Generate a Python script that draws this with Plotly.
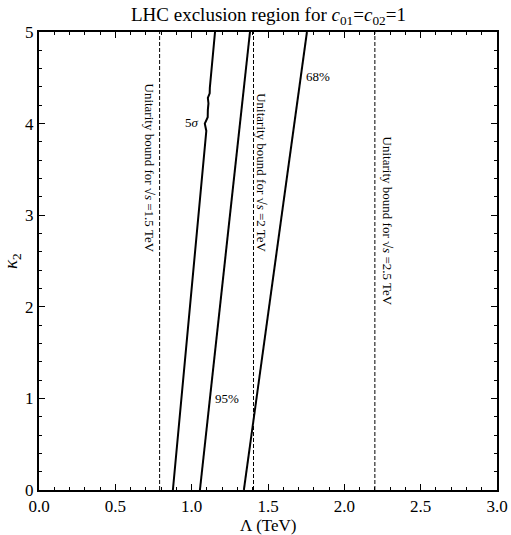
import plotly.graph_objects as go

# data
kappa = [0, 5]
sig5_y = [0.0, 1.24, 3.85, 3.92, 4.00, 4.07, 4.15, 4.22, 4.28, 4.33, 4.39, 5.0]
sig5_x = [0.877, 0.945, 1.089, 1.096, 1.086, 1.105, 1.106, 1.110, 1.106, 1.118, 1.119, 1.153]
cl95_x = [1.054, 1.382]
cl68_x = [1.342, 1.755]
unit_x = [0.79, 1.405, 2.20]
unit_labels = ["Unitarity bound for √<i>s</i> =1.5 TeV",
               "Unitarity bound for √<i>s</i> =2 TeV",
               "Unitarity bound for √<i>s</i> =2.5 TeV"]
unit_label_pos = [(0.727, 3.51), (1.46, 3.46), (2.28, 2.94)]
curve_labels = ["5<i>σ</i>", "95%", "68%"]
curve_label_pos = [(1.0, 4.01), (1.23, 1.0), (1.83, 4.51)]
xticks = [0.0, 0.5, 1.0, 1.5, 2.0, 2.5, 3.0]
yticks = [0, 1, 2, 3, 4, 5]

font = "Liberation Serif"
fig = go.Figure()
for ux in unit_x:
    fig.add_trace(go.Scatter(x=[ux, ux], y=kappa, mode="lines",
                             line=dict(color="black", width=1, dash="4px,2px")))
fig.add_trace(go.Scatter(x=sig5_x, y=sig5_y, mode="lines", line=dict(color="black", width=2)))
fig.add_trace(go.Scatter(x=cl95_x, y=kappa, mode="lines", line=dict(color="black", width=2)))
fig.add_trace(go.Scatter(x=cl68_x, y=kappa, mode="lines", line=dict(color="black", width=2)))

for txt, (px, py) in zip(unit_labels, unit_label_pos):
    fig.add_annotation(x=px, y=py, text=txt, showarrow=False, textangle=90,
                       font=dict(family=font, size=13, color="black"))
for txt, (px, py) in zip(curve_labels, curve_label_pos):
    fig.add_annotation(x=px, y=py, text=txt, showarrow=False,
                       font=dict(family=font, size=13, color="black"))

# title and axis titles as annotations
fig.add_annotation(xref="paper", yref="paper", x=0.5, y=1, yanchor="top", yshift=30,
                   text="LHC exclusion region for <i>c</i><sub>01</sub>=<i>c</i><sub>02</sub>=1",
                   showarrow=False, font=dict(family=font, size=19, color="black"))
fig.add_annotation(xref="paper", yref="paper", x=0.5, y=0, yanchor="top", yshift=-24,
                   text="Λ (TeV)", showarrow=False, font=dict(family=font, size=17, color="black"))
fig.add_annotation(xref="paper", yref="paper", x=0, y=0.5, xanchor="center", xshift=-27,
                   text="<i>κ</i><sub>2</sub>", textangle=-90, showarrow=False,
                   font=dict(family=font, size=19, color="black"))

axis_common = dict(showline=True, linecolor="black", linewidth=2, mirror="allticks",
                   ticks="inside", ticklen=6, tickwidth=1, tickcolor="black",
                   showgrid=False, zeroline=False, automargin=False,
                   tickfont=dict(family=font, size=17, color="black"))
fig.update_xaxes(range=[0, 3], tickvals=xticks, ticktext=[f"{v:.1f}" for v in xticks],
                 minor=dict(ticks="inside", ticklen=3, dtick=0.1, tickcolor="black", showgrid=False),
                 **axis_common)
fig.update_yaxes(range=[0, 5], tickvals=yticks, ticktext=[str(v) for v in yticks],
                 minor=dict(ticks="inside", ticklen=3, dtick=0.2, tickcolor="black", showgrid=False),
                 **axis_common)
fig.update_layout(
    width=511, height=535, showlegend=False,
    font=dict(family=font, size=16, color="black"),
    paper_bgcolor="white", plot_bgcolor="white",
    margin=dict(l=39, r=14, t=32, b=45),
)
fig.write_html("out.html", config={"displayModeBar": False},
               post_script="document.body.style.margin='0';document.body.style.overflow='hidden';")
